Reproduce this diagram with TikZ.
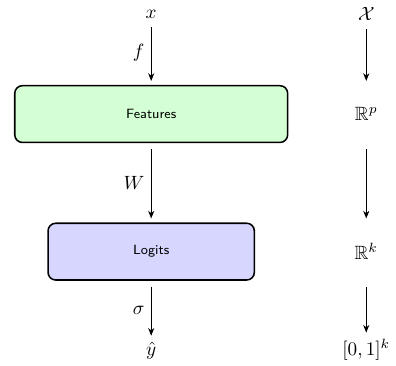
\documentclass[tikz,border=0pt]{standalone}
\usepackage{amsmath}
\usepackage{amssymb}
\usepackage{tikz}
\usetikzlibrary{positioning, calc, arrows.meta}

\begin{document}
\begin{tikzpicture}[
		% Rounded layer box
		layer/.style={
			draw=black,
			thick,
			rounded corners=4pt,
			minimum height=1.04cm,
			outer sep=2.5pt,
			font=\sffamily\scriptsize
		},
		% Invisible space node, as high as a layer box
		space/.style={
			minimum height=1.04cm,
			outer sep=2.5pt
		},
		% Map arrow
		map/.style={
			-{Stealth[length=4pt, width=3.2pt]},
			shorten <=1pt
		}
		]
		
		% Fix the canvas
		\useasboundingbox (0, 0) rectangle (7.255, -6.705);
		
		% Define coordinates
		\coordinate (L) at (2.77, 0);
		\coordinate (R) at (6.71, 0);
		
		% --- Network column ---
		\node (xin) at ($(L) + (0, -0.26)$) {$x$};
		\node[layer, fill=green!17, minimum width=5cm] (feat) at ($(L) + (0, -2.09)$) {Features};
		\node[layer, fill=blue!16, minimum width=3.78cm] (logit) at ($(L) + (0, -4.61)$) {Logits};
		\node (yhat) at ($(L) + (0, -6.43)$) {$\hat{y}$};
		
		% --- Space column ---
		\node (sx) at ($(R) + (0, -0.26)$) {$\mathcal{X}$};
		\node[space] (sp) at ($(R) + (0, -2.09)$) {$\mathbb{R}^p$};
		\node[space] (sk) at ($(R) + (0, -4.61)$) {$\mathbb{R}^k$};
		\node (sy) at ($(R) + (0, -6.41)$) {$[0,1]^k$};
		
		% --- Arrows ---
		\draw[map] (xin) -- node[left] {$f$} (feat);
		\draw[map] (feat) -- node[left] {$W$} (logit);
		\draw[map] (logit) -- node[left] {$\sigma$} (yhat);
		
		\draw[map] (sx) -- (sp);
		\draw[map] (sp) -- (sk);
		\draw[map] (sk) -- (sy);
		
	\end{tikzpicture}
\end{document}
